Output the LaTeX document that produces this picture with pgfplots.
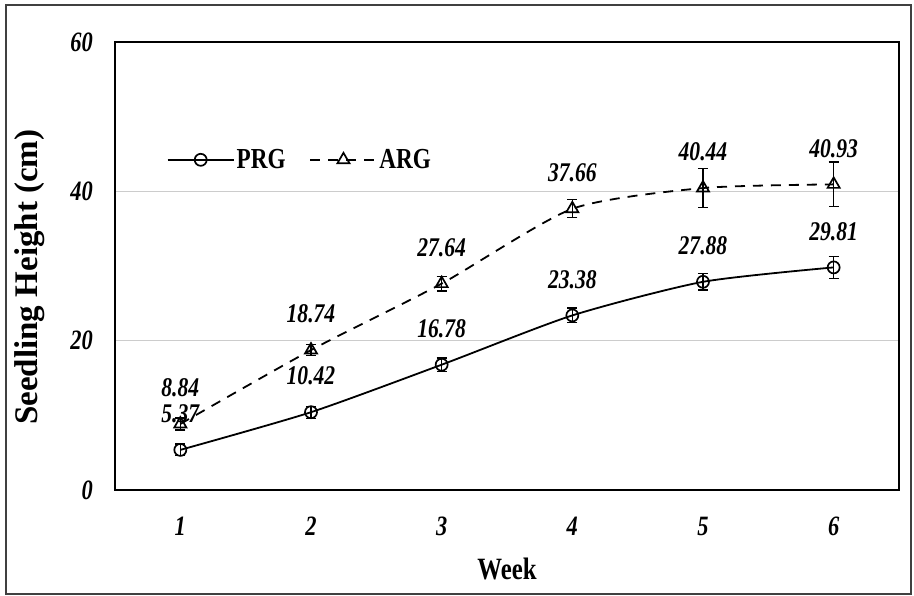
\documentclass[border=0pt]{standalone}
\usepackage{pgfplots}
\pgfplotsset{compat=1.18}
\usepackage{pgfplotstable}
\usepackage{fontspec}
\setmainfont{Liberation Serif}
\newfontfamily\cond{Liberation Serif}[FakeStretch=0.8]

\pgfplotstableread{
x y err
1 5.37 0.8
2 10.42 0.8
3 16.78 0.9
4 23.38 1.0
5 27.88 1.1
6 29.81 1.5
}\prg
\pgfplotstableread{
x y err
1 8.84 0.8
2 18.74 0.7
3 27.64 1.0
4 37.66 1.2
5 40.44 2.6
6 40.93 3.0
}\arg

\begin{document}
\begin{tikzpicture}
\useasboundingbox (0,0) rectangle (914pt,596pt);
\draw[line width=2pt, black!75] (6pt,2pt) rectangle (911pt,591pt);
\begin{axis}[
  at={(115pt,106pt)}, anchor=south west,
  scale only axis, width=784pt, height=448pt,
  xmin=0.5, xmax=6.5, ymin=0, ymax=60,
  xtick={1,2,3,4,5,6}, ytick={0,20,40,60},
  major tick length=0pt,
  ymajorgrids, grid style={black!20, line width=1pt},
  axis line style={line width=1.8pt, black},
  /pgf/number format/assume math mode=true,
  tick label style={font=\cond\fontsize{28}{28}\selectfont\bfseries\itshape},
  xticklabel style={anchor=north, inner sep=0pt, yshift=-27pt},
  yticklabel style={anchor=east, inner sep=0pt, xshift=-22pt},
  every axis x label/.style={at={(axis description cs:0.5,-0.176)}, anchor=center,
     font=\cond\fontsize{31}{31}\selectfont\bfseries},
  every axis y label/.style={at={(axis description cs:-0.1084,0.475)}, anchor=center, rotate=90,
     font=\fontsize{33}{33}\selectfont\bfseries},
  xlabel={Week}, ylabel={Seedling Height (cm)},
  legend style={at={(0.062,0.737)}, anchor=west, draw=none, fill=none,
     font=\cond\fontsize{29}{29}\selectfont\bfseries,
     /tikz/every even column/.append style={column sep=22pt},
     /tikz/every odd column/.append style={}},
  legend columns=2,
  legend image code/.code={\draw[mark repeat=2, mark phase=2, #1] plot coordinates {(0pt,0pt) (33pt,0pt) (66pt,0pt)};},
  nodes near coords={\pgfmathprintnumber[fixed,precision=2,fixed zerofill]{\pgfplotspointmeta}},
  every node near coord/.append style={font=\cond\fontsize{27}{27}\selectfont\bfseries\itshape, black, anchor=center, yshift=36pt},
]
\addplot[black, line width=1.8pt, smooth, tension=0.4, mark=o, mark size=6pt, mark options={solid, line width=1.7pt},
  error bars/.cd, y dir=both, y explicit,
  error bar style={line width=1.2pt, solid},
  error mark options={rotate=90, mark size=5pt, line width=1.2pt}]
  table[x=x, y=y, y error=err] {\prg};
\addlegendentry{PRG}
\addplot[black, line width=1.8pt, smooth, tension=0.4, dash pattern=on 10pt off 8pt, mark=triangle, mark size=7pt, mark options={solid, line width=1.7pt},
  error bars/.cd, y dir=both, y explicit,
  error bar style={line width=1.2pt, solid},
  error mark options={rotate=90, mark size=5pt, line width=1.2pt}]
  table[x=x, y=y, y error=err] {\arg};
\addlegendentry{ARG}
\end{axis}
\end{tikzpicture}
\end{document}
